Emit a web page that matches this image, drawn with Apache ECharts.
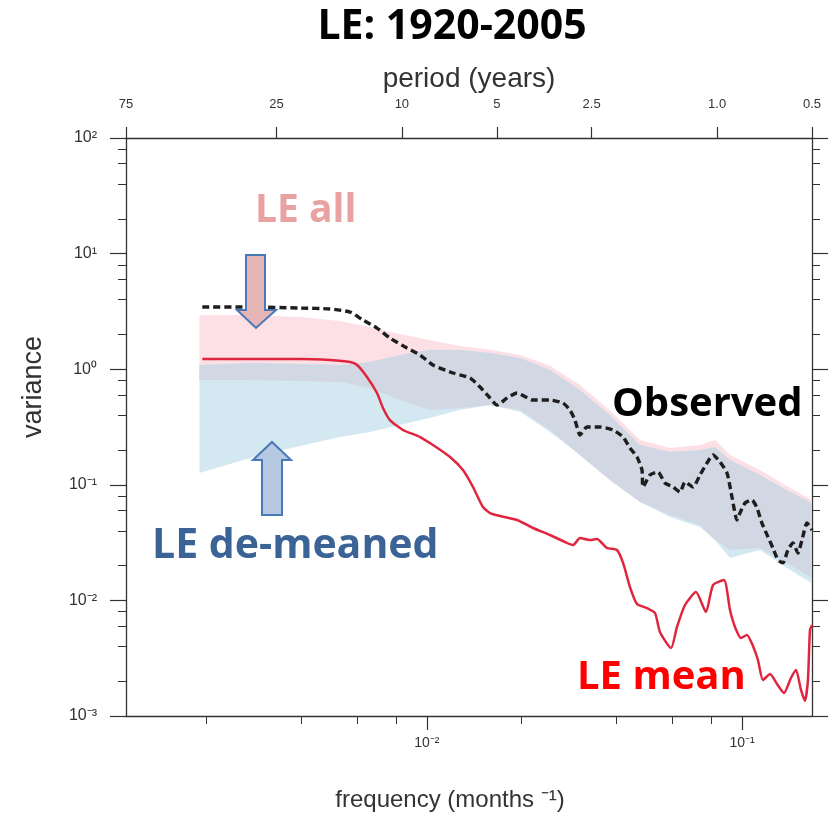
<!DOCTYPE html>
<html>
<head>
<meta charset="utf-8">
<title>LE: 1920-2005</title>
<script src="https://cdn.jsdelivr.net/npm/echarts@6/dist/echarts.min.js"></script>
<style>
  html, body { margin: 0; padding: 0; background: #ffffff; }
  #chart { width: 839px; height: 818px; }
</style>
</head>
<body>
<div id="chart"></div>
<script>
// Power spectra of monthly variance, 1920-2005.
// Frequencies are in cycles per month.

// Observed spectrum
const obsFreq = [0.00194, 0.00275, 0.00396, 0.00493, 0.00571, 0.00627, 0.00695, 0.00764, 0.00865, 0.00952,
  0.01046, 0.01211, 0.01371, 0.01475, 0.01587, 0.0167, 0.01796, 0.01932, 0.02172, 0.02459,
  0.02704, 0.02846, 0.02951, 0.03062, 0.03221, 0.03542, 0.03897, 0.04193, 0.0441, 0.04642,
  0.04815, 0.0485, 0.05103, 0.0541, 0.05694, 0.06037, 0.06355, 0.06592, 0.06989, 0.07353,
  0.07738, 0.08086, 0.08511, 0.08958, 0.0929, 0.09636, 0.09849, 0.1022, 0.1075, 0.1115,
  0.1156, 0.1209, 0.1253, 0.13, 0.1348, 0.1398, 0.145, 0.1504, 0.1549, 0.1607, 0.1667];
const obsVar = [3.45, 3.45, 3.38, 3.32, 3.12, 2.66, 2.27, 1.86, 1.525, 1.327,
  1.087, 0.927, 0.839, 0.701, 0.563, 0.49, 0.563, 0.622, 0.541, 0.541,
  0.51, 0.443, 0.363, 0.27, 0.316, 0.316, 0.298, 0.259, 0.208, 0.174,
  0.134, 0.0957, 0.1215, 0.129, 0.1036, 0.0957, 0.0866, 0.1057, 0.0957, 0.1215,
  0.1543, 0.181, 0.1575, 0.1264, 0.0784, 0.0496, 0.057, 0.0696, 0.0738, 0.063,
  0.0467, 0.0353, 0.0284, 0.0224, 0.0211, 0.0273, 0.0314, 0.0257, 0.0333, 0.0467, 0.0406];

// Ensemble-mean spectrum
const meanFreq = [0.00194, 0.00275, 0.00396, 0.00493, 0.00571, 0.00601, 0.00646, 0.00695, 0.00726, 0.00764,
  0.0084, 0.00952, 0.01046, 0.01185, 0.01302, 0.01401, 0.01507, 0.01587, 0.01707, 0.01932,
  0.02172, 0.02459, 0.02743, 0.02909, 0.03062, 0.03293, 0.03466, 0.03728, 0.04009, 0.04193,
  0.0441, 0.04642, 0.04994, 0.05295, 0.0549, 0.05951, 0.06217, 0.06592, 0.07141, 0.07681,
  0.08086, 0.08764, 0.09156, 0.09497, 0.09922, 0.1036, 0.1083, 0.1123, 0.1165, 0.1227,
  0.1291, 0.1358, 0.1429, 0.1483, 0.1538, 0.1583, 0.1618, 0.1642, 0.1667];
const meanVar = [1.225, 1.225, 1.225, 1.2, 1.154, 1.087, 0.856, 0.622, 0.462, 0.363,
  0.298, 0.259, 0.221, 0.174, 0.134, 0.0957, 0.0642, 0.057, 0.0537, 0.0496,
  0.0423, 0.0368, 0.032, 0.0301, 0.0346, 0.0333, 0.034, 0.0284, 0.0273, 0.0211,
  0.01305, 0.0093, 0.00859, 0.00778, 0.00533, 0.00387, 0.00589, 0.00912, 0.01181, 0.00793,
  0.01358, 0.015, 0.00826, 0.00589, 0.00473, 0.00502, 0.00403, 0.00305, 0.00205, 0.00231,
  0.00189, 0.00158, 0.00213, 0.0025, 0.00168, 0.00135, 0.00205, 0.00554, 0.00612];

// Ensemble spread: all members, and members with the ensemble mean removed
const bandFreq = [0.0019, 0.00275, 0.00396, 0.0053, 0.0066, 0.0082, 0.0102, 0.0127, 0.0159, 0.0198,
  0.0246, 0.0306, 0.0381, 0.0475, 0.0591, 0.0735, 0.0821, 0.0916, 0.114, 0.142, 0.1667];
const allUpper = [2.94, 2.94, 2.83, 2.61, 2.32, 2.02, 1.79, 1.59, 1.47, 1.33,
  1.07, 0.73, 0.44, 0.244, 0.208, 0.221, 0.244, 0.181, 0.134, 0.094, 0.074];
const allLower = [0.806, 0.806, 0.79, 0.775, 0.688, 0.541, 0.443, 0.462, 0.49, 0.443,
  0.298, 0.181, 0.11, 0.071, 0.0548, 0.0449, 0.0333, 0.0273, 0.0284, 0.0202, 0.0156];
const demeanUpper = [1.087, 1.131, 1.109, 1.087, 1.154, 1.327, 1.466, 1.466, 1.38, 1.25,
  0.984, 0.661, 0.402, 0.221, 0.192, 0.2, 0.212, 0.164, 0.1215, 0.0866, 0.0696];
const demeanLower = [0.1264, 0.1704, 0.2165, 0.259, 0.286, 0.329, 0.378, 0.443, 0.49, 0.426,
  0.286, 0.181, 0.11, 0.071, 0.0526, 0.0431, 0.0333, 0.0233, 0.0273, 0.0183, 0.0141];

// Axis ticks
const periodTicks = [75, 25, 10, 5, 2.5, 1.0, 0.5];          // years
const periodLabels = ['75', '25', '10', '5', '2.5', '1.0', '0.5'];
const freqMajor = [0.01, 0.1];
const freqMinor = [0.002, 0.004, 0.006, 0.008, 0.02, 0.04, 0.06, 0.08];
const varMajor = [100, 10, 1, 0.1, 0.01, 0.001];
const varMinor = [];
for (let n = -3; n <= 1; n++) {
  [2, 4, 6, 8].forEach(k => varMinor.push(k * Math.pow(10, n)));
}

// Both axes are drawn in decades (log10 units)
const lg = Math.log10;
const xMin = lg(1 / (12 * 75));
const xMax = lg(1 / (12 * 0.5));
const yMin = -3;
const yMax = 2;

const SUP = { '-': '\u207B', '0': '\u2070', '1': '\u00B9', '2': '\u00B2', '3': '\u00B3' };
function expLabel(v) {
  const n = String(Math.round(v));
  return '10' + n.split('').map(c => SUP[c]).join('');
}
function periodLabel(v) {
  let best = 0, d = Infinity;
  periodTicks.forEach((p, i) => {
    const e = Math.abs(lg(1 / (12 * p)) - v);
    if (e < d) { d = e; best = i; }
  });
  return periodLabels[best];
}

const ink = '#333333';
const axisFont = 'Liberation Sans, Arial, Helvetica, sans-serif';
const boldFont = 'Open Sans, Noto Sans, sans-serif';

const overlapLower = bandFreq.map((f, i) => Math.max(allLower[i], demeanLower[i]));
const overlapUpper = bandFreq.map((f, i) => Math.min(allUpper[i], demeanUpper[i]));

// A spread band drawn as one polygon: upper edge out, lower edge back
function bandSeries(id, lower, upper, color) {
  return {
    id: id, type: 'custom', coordinateSystem: 'cartesian2d', xAxisIndex: 0, yAxisIndex: 0,
    clip: true, silent: true, z: 1,
    data: [[lg(bandFreq[0]), lg(upper[0])]],
    renderItem: function (params, api) {
      const pts = [];
      for (let i = 0; i < bandFreq.length; i++) pts.push(api.coord([lg(bandFreq[i]), lg(upper[i])]));
      for (let i = bandFreq.length - 1; i >= 0; i--) pts.push(api.coord([lg(bandFreq[i]), lg(lower[i])]));
      return { type: 'polygon', shape: { points: pts }, style: { fill: color } };
    }
  };
}

function xAxisBase(extra) {
  return Object.assign({
    type: 'value', min: xMin, max: xMax,
    splitLine: { show: false },
    axisLine: { show: true, onZero: false, lineStyle: { color: ink, width: 1.3 } }
  }, extra);
}
function yAxisBase(extra) {
  return Object.assign({
    type: 'value', min: yMin, max: yMax,
    splitLine: { show: false },
    axisLine: { show: true, onZero: false, lineStyle: { color: ink, width: 1.3 } }
  }, extra);
}

const chart = echarts.init(document.getElementById('chart'), null, { renderer: 'canvas' });

chart.setOption({
  backgroundColor: '#ffffff',
  animation: false,
  grid: { left: 126, right: 27, top: 138, bottom: 102, containLabel: false },
  xAxis: [
    xAxisBase({
      position: 'bottom',
      axisTick: { show: true, length: 14, customValues: freqMajor.map(lg), lineStyle: { color: ink, width: 1.2 } },
      axisLabel: { show: true, customValues: freqMajor.map(lg), formatter: expLabel, margin: 20,
        color: ink, fontFamily: axisFont, fontSize: 14 }
    }),
    xAxisBase({
      position: 'bottom',
      axisLine: { show: false, onZero: false },
      axisTick: { show: true, length: 8, customValues: freqMinor.map(lg), lineStyle: { color: ink, width: 1 } },
      axisLabel: { show: false }
    }),
    xAxisBase({
      position: 'top',
      axisTick: { show: true, length: 11, customValues: periodTicks.map(p => lg(1 / (12 * p))), lineStyle: { color: ink, width: 1.2 } },
      axisLabel: { show: true, customValues: periodTicks.map(p => lg(1 / (12 * p))), formatter: periodLabel,
        margin: 27, color: ink, fontFamily: axisFont, fontSize: 13 },
      name: 'period (years)', nameLocation: 'middle', nameGap: 44,
      nameTextStyle: { color: ink, fontFamily: axisFont, fontSize: 28 }
    })
  ],
  yAxis: [
    yAxisBase({
      position: 'left',
      axisTick: { show: true, length: 16, customValues: varMajor.map(lg), lineStyle: { color: ink, width: 1.2 } },
      axisLabel: { show: true, customValues: varMajor.map(lg), formatter: expLabel, margin: 29,
        color: ink, fontFamily: axisFont, fontSize: 16 }
    }),
    yAxisBase({
      position: 'left',
      axisLine: { show: false, onZero: false },
      axisTick: { show: true, length: 8, customValues: varMinor.map(lg), lineStyle: { color: ink, width: 1 } },
      axisLabel: { show: false }
    }),
    yAxisBase({
      position: 'right',
      axisTick: { show: true, length: 16, customValues: varMajor.map(lg), lineStyle: { color: ink, width: 1.2 } },
      axisLabel: { show: false }
    }),
    yAxisBase({
      position: 'right',
      axisLine: { show: false, onZero: false },
      axisTick: { show: true, length: 8, customValues: varMinor.map(lg), lineStyle: { color: ink, width: 1 } },
      axisLabel: { show: false }
    })
  ],
  series: [
    bandSeries('leAll', allLower, allUpper, '#fde0e5'),
    bandSeries('leDemeaned', demeanLower, demeanUpper, '#d3e8f0'),
    bandSeries('overlap', overlapLower, overlapUpper, '#d1d8e4'),
    {
      id: 'leMean', type: 'line', symbol: 'none', smooth: 0.2, z: 3,
      data: meanFreq.map((f, i) => [lg(f), lg(meanVar[i])]),
      lineStyle: { color: '#e0263f', width: 2.5 }
    },
    {
      id: 'observed', type: 'line', symbol: 'none', smooth: 0.2, z: 4,
      data: obsFreq.map((f, i) => [lg(f), lg(obsVar[i])]),
      lineStyle: { color: '#1e1e1e', width: 3.4, type: [7, 4] }
    }
  ],
  graphic: [
    { type: 'text', z: 10, style: { text: 'LE: 1920-2005', x: 452, y: 27, fill: '#000000',
      font: 'bold 41px ' + boldFont, textAlign: 'center', textVerticalAlign: 'middle', align: 'center', verticalAlign: 'middle' } },
    { type: 'text', z: 10, rotation: Math.PI / 2, x: 34, y: 387, style: { text: 'variance', x: 0, y: 0, fill: ink,
      font: '27px ' + axisFont, textAlign: 'center', textVerticalAlign: 'middle', align: 'center', verticalAlign: 'middle' } },
    { type: 'text', z: 10, style: { text: 'frequency (months \u207B\u00B9)', x: 450, y: 800, fill: ink,
      font: '24px ' + axisFont, textAlign: 'center', textVerticalAlign: 'middle', align: 'center', verticalAlign: 'middle' } },
    { type: 'text', z: 10, style: { text: 'LE all', x: 255, y: 211, fill: '#e8a2a2',
      font: 'bold 39px ' + boldFont, textAlign: 'left', textVerticalAlign: 'middle', align: 'left', verticalAlign: 'middle' } },
    { type: 'text', z: 10, style: { text: 'LE de-meaned', x: 152, y: 546, fill: '#3b6396',
      font: 'bold 41px ' + boldFont, textAlign: 'left', textVerticalAlign: 'middle', align: 'left', verticalAlign: 'middle' } },
    { type: 'text', z: 10, style: { text: 'Observed', x: 612, y: 405, fill: '#000000',
      font: 'bold 40px ' + boldFont, textAlign: 'left', textVerticalAlign: 'middle', align: 'left', verticalAlign: 'middle' } },
    { type: 'text', z: 10, style: { text: 'LE mean', x: 577, y: 678, fill: '#ff0000',
      font: 'bold 40px ' + boldFont, textAlign: 'left', textVerticalAlign: 'middle', align: 'left', verticalAlign: 'middle' } },
    // arrow pointing down onto the upper edge of the full-ensemble spread
    { type: 'polygon', z: 9, shape: { points: [[246, 255], [265, 255], [265, 310], [276, 310], [256, 328], [237, 310], [246, 310]] },
      style: { fill: '#e6b5b5', stroke: '#4a78b8', lineWidth: 2 } },
    // arrow pointing up onto the lower edge of the de-meaned spread
    { type: 'polygon', z: 9, shape: { points: [[272, 442], [291, 460], [282, 460], [282, 515], [262, 515], [262, 460], [253, 460]] },
      style: { fill: '#b5c9e2', stroke: '#4a78b8', lineWidth: 2 } }
  ]
});
</script>
</body>
</html>
